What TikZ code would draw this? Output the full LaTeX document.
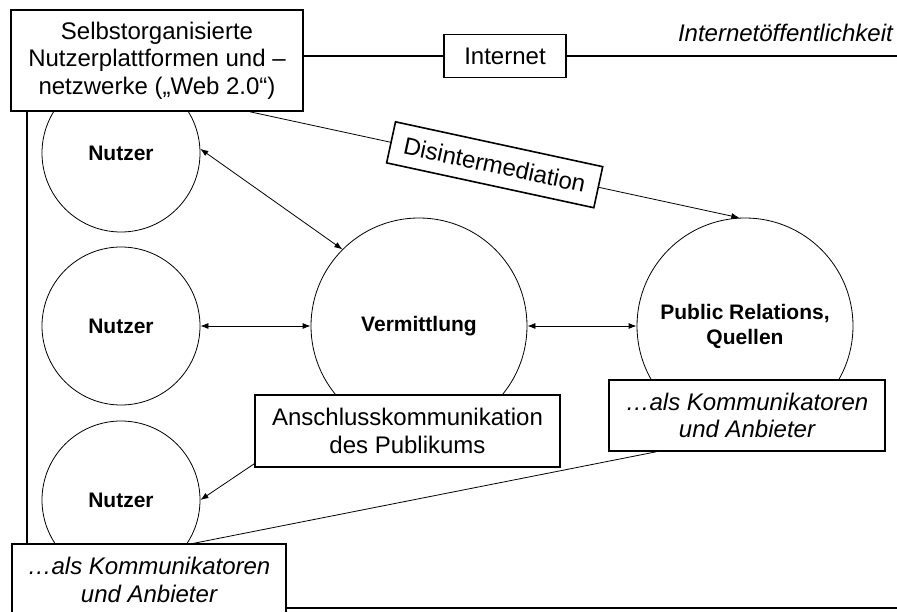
\documentclass[tikz,border=0pt]{standalone}
\usepackage{fontspec}
\setmainfont{Liberation Sans}
\usetikzlibrary{arrows.meta}
\begin{document}
\begin{tikzpicture}[x=1pt,y=-1pt,
  txt/.style={font=\fontsize{24}{27.5}\selectfont, align=center},
  itxt/.style={font=\fontsize{24}{27.5}\selectfont\itshape, align=center},
  boxed/.style={draw, line width=1.6pt, fill=white, inner sep=0pt},
  circ/.style={draw, circle, line width=0.8pt, inner sep=0pt,
    font=\fontsize{21}{25}\selectfont\bfseries, align=center},
  arr/.style={line width=0.8pt, -{Latex[length=8pt,width=6pt]}},
  darr/.style={line width=0.8pt, {Latex[length=8pt,width=6pt]}-{Latex[length=8pt,width=6pt]}},
  heavy/.style={line width=1.6pt},
  light/.style={line width=0.8pt}
]
\useasboundingbox (0,0) rectangle (897,612);

% circles
\node[circ, minimum size=158pt] (n1) at (121,153) {Nutzer};
\node[circ, minimum size=158pt] (n2) at (121,326) {Nutzer};
\node[circ, minimum size=158pt] (n3) at (121,500) {Nutzer};
\node[circ, minimum size=216pt] (v) at (419,326) {Vermittlung};
\node[circ, minimum size=216pt] (pr) at (745,326) {Public Relations,\\Quellen};

% boxes
\node[boxed, txt, minimum width=292pt, minimum height=101pt] (web) at (157,60.5)
  {Selbstorganisierte\\Nutzerplattformen und –\\netzwerke („Web 2.0“)};
\node[boxed, txt, minimum width=122pt, minimum height=43pt] (inet) at (505,56) {Internet};
\node[itxt, anchor=east, inner sep=0pt] (io) at (893,33) {Internetöffentlichkeit};
\node[boxed, txt, minimum width=305pt, minimum height=72pt] (ak) at (407.5,431)
  {Anschlusskommunikation\\des Publikums};
\node[boxed, itxt, minimum width=276pt, minimum height=71pt] (prk) at (747,415.5)
  {…als Kommunikatoren\\und Anbieter};
\node[boxed, itxt, minimum width=274pt, minimum height=72pt] (bot) at (149,580)
  {…als Kommunikatoren\\und Anbieter};

% frame lines
\coordinate (vl) at (27,0);
\coordinate (re) at (897,56);
\coordinate (bl) at (897,608);
\draw[heavy] (web.east |- inet.west) -- (inet.west);
\draw[heavy] (inet.east) -- (re);
\draw[heavy] (vl |- web.south) -- (vl |- bot.north);
\draw[heavy] (bot.east |- bl) -- (bl);

% arrows
\draw[darr] (n1.3) -- (v.135);
\draw[darr] (n2.east) -- (v.west);
\draw[darr] (v.east) -- (pr.west);
\draw[arr] ([yshift=4pt]ak.south west) -- (n3.east);
\draw[light] ([xshift=48pt]prk.south west) -- ([xshift=183pt]bot.north west);

% disintermediation
\draw[arr] ([xshift=93pt]web.south) -- node[pos=0.5, sloped, boxed, txt,
  minimum width=212pt, minimum height=42pt] (dis) {Disintermediation} (pr.93);
\end{tikzpicture}
\end{document}
